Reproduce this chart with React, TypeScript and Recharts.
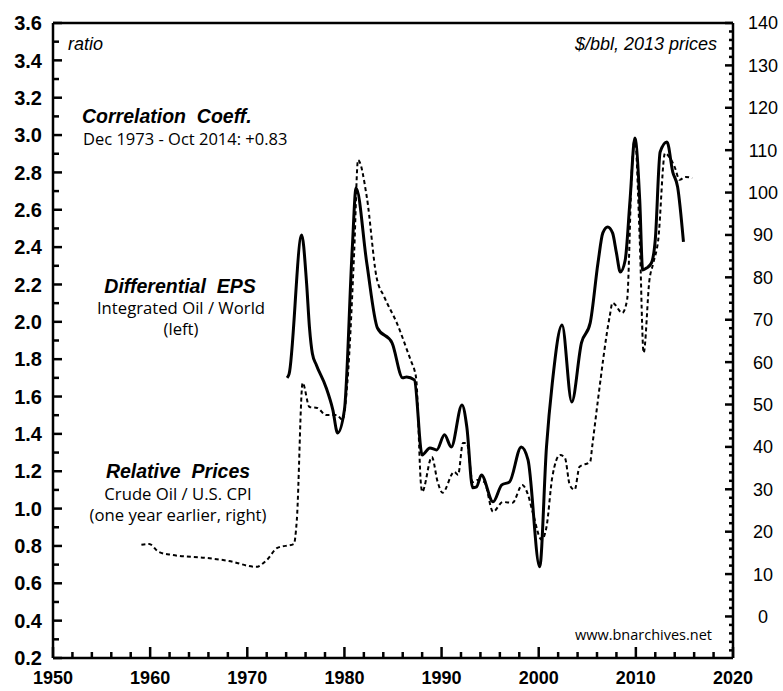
import React from "react";
import { LineChart, Line, XAxis, YAxis, ReferenceLine } from "recharts";

// Differential EPS: Integrated Oil / World (left axis, ratio)
const epsYears = [1974.1, 1974.3, 1975.6, 1976.1, 1976.4, 1976.7, 1977.1, 1978.1, 1978.8, 1979.3, 1980.0, 1980.8, 1981.2, 1982.3, 1983.4, 1984.9, 1986.0, 1986.4, 1987.2, 1988.0, 1988.8, 1989.5, 1990.3, 1991.0, 1992.1, 1992.6, 1993.2, 1993.6, 1994.1, 1995.3, 1996.2, 1997.0, 1998.2, 1998.9, 2000.1, 2000.8, 2001.4, 2002.4, 2003.4, 2004.4, 2005.3, 2006.1, 2006.6, 2007.1, 2007.6, 2008.0, 2008.4, 2008.9, 2009.4, 2009.9, 2010.4, 2010.7, 2011.1, 2011.6, 2012.0, 2012.5, 2013.2, 2013.8, 2014.3, 2014.9];
const epsValues = [1.70, 1.72, 2.465, 2.21, 1.97, 1.83, 1.77, 1.65, 1.53, 1.405, 1.53, 2.385, 2.717, 2.315, 1.967, 1.887, 1.70, 1.705, 1.689, 1.287, 1.325, 1.314, 1.395, 1.33, 1.555, 1.437, 1.111, 1.116, 1.18, 1.036, 1.127, 1.143, 1.33, 1.261, 0.688, 1.33, 1.673, 1.983, 1.571, 1.887, 1.994, 2.315, 2.476, 2.508, 2.476, 2.369, 2.267, 2.33, 2.652, 2.984, 2.65, 2.278, 2.288, 2.315, 2.44, 2.909, 2.963, 2.802, 2.722, 2.428];

// Relative Prices: Crude Oil / U.S. CPI, one year earlier ($/bbl, 2013 prices, right axis)
const oilYears = [1959.1, 1959.9, 1960.9, 1962.3, 1965.8, 1968.1, 1970.9, 1972.0, 1973.1, 1974.8, 1975.1, 1975.7, 1976.4, 1977.2, 1978.1, 1979.2, 1979.8, 1980.3, 1981.0, 1981.4, 1982.3, 1983.3, 1984.1, 1985.4, 1986.9, 1987.2, 1987.4, 1987.9, 1988.0, 1989.0, 1989.6, 1990.1, 1991.3, 1991.7, 1992.2, 1992.6, 1993.2, 1993.7, 1994.4, 1995.3, 1996.3, 1997.3, 1998.3, 1998.9, 1999.4, 2000.3, 2000.8, 2001.4, 2002.2, 2002.7, 2003.2, 2003.7, 2004.2, 2005.3, 2005.5, 2006.1, 2007.3, 2007.6, 2008.6, 2009.1, 2009.6, 2009.9, 2010.4, 2010.8, 2011.4, 2011.8, 2012.3, 2013.0, 2013.5, 2014.0, 2014.5, 2015.1, 2015.8];
const oilValues = [16.9, 17.1, 15.2, 14.5, 13.8, 13.1, 11.7, 13.3, 16.2, 17.1, 22.8, 55.1, 49.4, 49.2, 47.5, 47.5, 46.4, 55.1, 85.8, 107.7, 99.0, 80.1, 75.4, 69.2, 60.0, 58.2, 55.8, 30.6, 29.4, 37.6, 31.7, 29.2, 34.1, 33.4, 40.9, 40.9, 31.7, 32.2, 31.7, 24.7, 27.0, 26.8, 31.0, 28.7, 24.4, 18.1, 21.1, 32.9, 38.1, 37.4, 31.0, 29.9, 35.3, 36.5, 40.0, 51.1, 70.7, 74.0, 71.6, 74.7, 106.0, 112.9, 88.8, 62.2, 79.4, 83.4, 88.8, 109.3, 108.2, 106.0, 103.0, 103.7, 103.4];

// Axis ticks
const xMajorTicks = [1950, 1960, 1970, 1980, 1990, 2000, 2010, 2020];
const leftMajorTicks = [0.2, 0.4, 0.6, 0.8, 1.0, 1.2, 1.4, 1.6, 1.8, 2.0, 2.2, 2.4, 2.6, 2.8, 3.0, 3.2, 3.4, 3.6];
const rightMajorTicks = [0, 10, 20, 30, 40, 50, 60, 70, 80, 90, 100, 110, 120, 130, 140];
const xDomain = [1950, 2020];
const leftDomain = [0.2, 3.6];
const rightDomain = [-9.8, 140];

// Chart geometry (shared by chart and tick overlay)
const W = 783;
const H = 691;
const TOP = 23;
const LEFT_W = 53;
const RIGHT_W = 50;
const BOTTOM_H = 33;
const PLOT_L = LEFT_W;
const PLOT_R = W - RIGHT_W;
const PLOT_T = TOP;
const PLOT_B = H - BOTTOM_H;

const epsData = epsYears.map((year, i) => ({ year, eps: epsValues[i] }));
const oilData = oilYears.map((year, i) => ({ year, oil: oilValues[i] }));

const xTicks: number[] = [];
for (let y = xDomain[0]; y <= xDomain[1]; y += 2) xTicks.push(y);
const leftTicks: number[] = [];
for (let i = 0; i < leftMajorTicks.length; i++) {
  leftTicks.push(leftMajorTicks[i]);
  if (i < leftMajorTicks.length - 1) leftTicks.push(Math.round((leftMajorTicks[i] + 0.1) * 100) / 100);
}
const rightTicks: number[] = [];
for (let v = -8; v <= 140; v += 2) rightTicks.push(v);

const isMajor = (arr: number[], v: number) => arr.some((m) => Math.abs(m - v) < 1e-6);
const sx = (v: number) => PLOT_L + ((v - xDomain[0]) / (xDomain[1] - xDomain[0])) * (PLOT_R - PLOT_L);
const syL = (v: number) => PLOT_T + ((leftDomain[1] - v) / (leftDomain[1] - leftDomain[0])) * (PLOT_B - PLOT_T);
const syR = (v: number) => PLOT_T + ((rightDomain[1] - v) / (rightDomain[1] - rightDomain[0])) * (PLOT_B - PLOT_T);

const AXIS_FONT = "'Liberation Sans', Arial, Helvetica, sans-serif";
const TEXT_FONT = "'Open Sans', 'Noto Sans', sans-serif";
const INK = "#000000";

const renderLeftTick = (props: any) => {
  const v = props.payload.value;
  if (!isMajor(leftMajorTicks, v)) return <g key={`lt-${v}`} />;
  return (
    <text key={`lt-${v}`} x={Number(props.x) - 11} y={Number(props.y)} dy="0.36em" textAnchor="end" fontFamily={AXIS_FONT} fontWeight="bold" fontSize={20} fill={INK}>
      {v.toFixed(1)}
    </text>
  );
};

const renderRightTick = (props: any) => {
  const v = props.payload.value;
  if (!isMajor(rightMajorTicks, v)) return <g key={`rt-${v}`} />;
  return (
    <text key={`rt-${v}`} x={Number(props.x) + 30} y={Number(props.y)} dy="0.36em" textAnchor="middle" fontFamily={AXIS_FONT} fontSize={18} fill={INK}>
      {v}
    </text>
  );
};

const renderBottomTick = (props: any) => {
  const v = props.payload.value;
  if (!isMajor(xMajorTicks, v)) return <g key={`bt-${v}`} />;
  return (
    <text key={`bt-${v}`} x={Number(props.x)} y={Number(props.y) + 26} textAnchor="middle" fontFamily={AXIS_FONT} fontWeight="bold" fontSize={18} fill={INK}>
      {v}
    </text>
  );
};

export default function App() {
  return (
    <div style={{ position: "absolute", left: 0, top: 0, width: W, height: H, background: "#fff" }}>
      <LineChart width={W} height={H} margin={{ top: TOP, right: 0, bottom: 0, left: 0 }}>
        <XAxis
          dataKey="year"
          type="number"
          domain={xDomain}
          ticks={xTicks}
          interval={0}
          allowDataOverflow
          height={BOTTOM_H}
          tickSize={0}
          tickMargin={0}
          tick={renderBottomTick}
          axisLine={{ stroke: INK, strokeWidth: 2.5 }}
          tickLine={false}
        />
        <YAxis
          yAxisId="left"
          orientation="left"
          type="number"
          domain={leftDomain}
          ticks={leftTicks}
          interval={0}
          allowDataOverflow
          width={LEFT_W}
          tickSize={0}
          tickMargin={0}
          tick={renderLeftTick}
          axisLine={{ stroke: INK, strokeWidth: 2.5 }}
          tickLine={false}
        />
        <YAxis
          yAxisId="right"
          orientation="right"
          type="number"
          domain={rightDomain}
          ticks={rightTicks}
          interval={0}
          allowDataOverflow
          width={RIGHT_W}
          tickSize={0}
          tickMargin={0}
          tick={renderRightTick}
          axisLine={{ stroke: INK, strokeWidth: 2.5 }}
          tickLine={false}
        />
        <ReferenceLine yAxisId="left" y={leftDomain[1]} stroke={INK} strokeWidth={2.5} />
        <Line
          yAxisId="right"
          data={oilData}
          dataKey="oil"
          type="monotone"
          stroke={INK}
          strokeWidth={2}
          strokeDasharray="4 3"
          dot={false}
          activeDot={false}
          isAnimationActive={false}
        />
        <Line
          yAxisId="left"
          data={epsData}
          dataKey="eps"
          type="monotone"
          stroke={INK}
          strokeWidth={3}
          dot={false}
          activeDot={false}
          isAnimationActive={false}
        />
      </LineChart>
      <svg width={W} height={H} style={{ position: "absolute", left: 0, top: 0, pointerEvents: "none" }}>
        {leftTicks.map((v) => {
          const len = isMajor(leftMajorTicks, v) ? 9 : 6;
          const y = syL(v);
          return <line key={`ol-${v}`} x1={PLOT_L} x2={PLOT_L + len} y1={y} y2={y} stroke={INK} strokeWidth={2.5} />;
        })}
        {rightTicks.map((v) => {
          const len = isMajor(rightMajorTicks, v) ? 8 : 4;
          const y = syR(v);
          return <line key={`or-${v}`} x1={PLOT_R} x2={PLOT_R - len} y1={y} y2={y} stroke={INK} strokeWidth={2.5} />;
        })}
        {xTicks.map((v) => {
          const len = isMajor(xMajorTicks, v) ? 11 : 6;
          const x = sx(v);
          return <line key={`ob-${v}`} x1={x} x2={x} y1={PLOT_B} y2={PLOT_B - len} stroke={INK} strokeWidth={2.5} />;
        })}
        <text x={68} y={50} fontFamily={AXIS_FONT} fontStyle="italic" fontSize={18} fill={INK}>ratio</text>
        <text x={717} y={50} textAnchor="end" fontFamily={AXIS_FONT} fontStyle="italic" fontSize={18} fill={INK}>$/bbl, 2013 prices</text>
        <text x={82} y={123} fontFamily={AXIS_FONT} fontStyle="italic" fontWeight="bold" fontSize={19.5} fill={INK} style={{ whiteSpace: "pre" }}>Correlation  Coeff.</text>
        <text x={83} y={145} fontFamily={TEXT_FONT} fontSize={16.5} fill={INK}>Dec 1973 - Oct 2014: +0.83</text>
        <text x={180} y={293} textAnchor="middle" fontFamily={AXIS_FONT} fontStyle="italic" fontWeight="bold" fontSize={19.5} fill={INK} style={{ whiteSpace: "pre" }}>Differential  EPS</text>
        <text x={181} y={314} textAnchor="middle" fontFamily={TEXT_FONT} fontSize={16.7} fill={INK}>Integrated Oil / World</text>
        <text x={181} y={335} textAnchor="middle" fontFamily={TEXT_FONT} fontSize={16.7} fill={INK}>(left)</text>
        <text x={178} y={478} textAnchor="middle" fontFamily={AXIS_FONT} fontStyle="italic" fontWeight="bold" fontSize={19.5} fill={INK} style={{ whiteSpace: "pre" }}>Relative  Prices</text>
        <text x={178} y={500} textAnchor="middle" fontFamily={TEXT_FONT} fontSize={16.7} fill={INK}>Crude Oil / U.S. CPI</text>
        <text x={178} y={521} textAnchor="middle" fontFamily={TEXT_FONT} fontSize={16.7} fill={INK}>(one year earlier, right)</text>
        <text x={712} y={640} textAnchor="end" fontFamily={TEXT_FONT} fontSize={14.5} fill={INK}>www.bnarchives.net</text>
      </svg>
    </div>
  );
}
